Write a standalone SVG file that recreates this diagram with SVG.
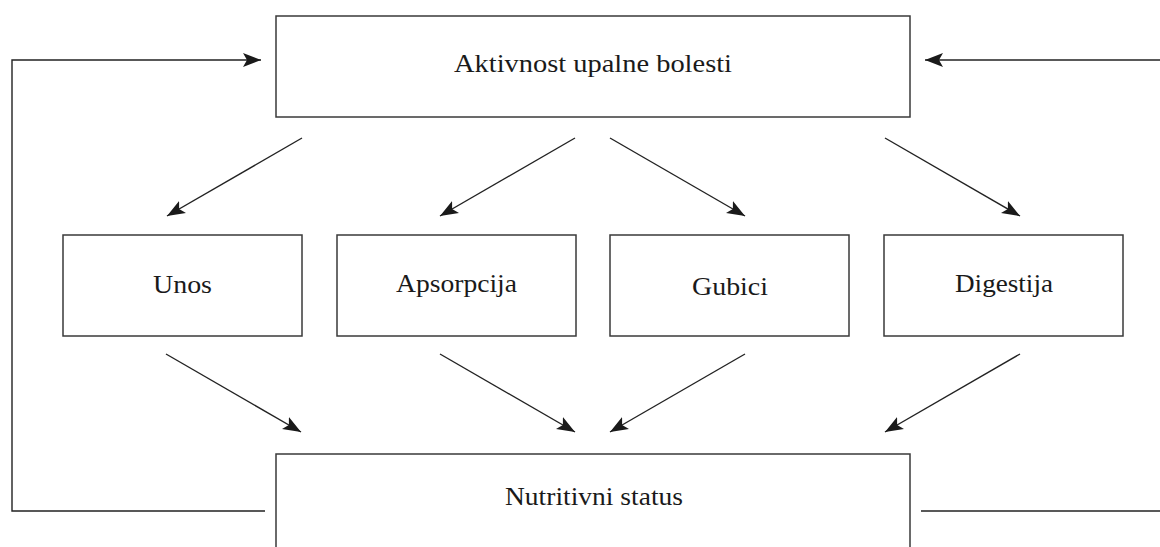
<svg xmlns="http://www.w3.org/2000/svg" width="1160" height="547" viewBox="0 0 1160 547">
<style>
.box{fill:#fff;stroke:#3a3a3a;stroke-width:1.5}
.lbl{font-family:"Liberation Serif","Times New Roman",serif;font-size:25px;fill:#1a1a1a;text-anchor:middle}
.con{fill:none;stroke:#222;stroke-width:1.4}
.arr{fill:none;stroke:#222;stroke-width:1.4;marker-end:url(#ah)}
</style>
<defs>
<marker id="ah" markerUnits="userSpaceOnUse" markerWidth="20" markerHeight="16" viewBox="0 0 20 16" refX="18" refY="8" orient="auto">
<path d="M0,1 L18,8 L0,15 L4,8 Z" fill="#1a1a1a"/>
</marker>
</defs>
<g id="connectors">
<polyline class="arr" points="265,511 12,511 12,60 261,60"/>
<line class="con" x1="921" y1="511" x2="1160" y2="511"/>
<line class="arr" x1="1160" y1="60" x2="925" y2="60"/>
<line class="arr" x1="302" y1="138" x2="167" y2="216"/>
<line class="arr" x1="575" y1="138" x2="440" y2="216"/>
<line class="arr" x1="610" y1="138" x2="745" y2="216"/>
<line class="arr" x1="885" y1="138" x2="1020" y2="216"/>
<line class="arr" x1="166" y1="354" x2="301" y2="432"/>
<line class="arr" x1="440" y1="354" x2="575" y2="432"/>
<line class="arr" x1="745" y1="354" x2="610" y2="432"/>
<line class="arr" x1="1020" y1="354" x2="885" y2="432"/>
</g>
<g id="node-aktivnost">
<rect class="box" x="276" y="16" width="634" height="101"/>
<text class="lbl" x="593" y="72" textLength="278" lengthAdjust="spacingAndGlyphs">Aktivnost upalne bolesti</text>
</g>
<g id="node-unos">
<rect class="box" x="63" y="235" width="239" height="101"/>
<text class="lbl" x="182.5" y="293" textLength="59" lengthAdjust="spacingAndGlyphs">Unos</text>
</g>
<g id="node-apsorpcija">
<rect class="box" x="337" y="235" width="239" height="101"/>
<text class="lbl" x="456.5" y="292" textLength="121" lengthAdjust="spacingAndGlyphs">Apsorpcija</text>
</g>
<g id="node-gubici">
<rect class="box" x="610" y="235" width="239" height="101"/>
<text class="lbl" x="730" y="295" textLength="76" lengthAdjust="spacingAndGlyphs">Gubici</text>
</g>
<g id="node-digestija">
<rect class="box" x="884" y="235" width="239" height="101"/>
<text class="lbl" x="1004" y="292" textLength="98" lengthAdjust="spacingAndGlyphs">Digestija</text>
</g>
<g id="node-nutritivni">
<rect class="box" x="276" y="454" width="634" height="110"/>
<text class="lbl" x="594" y="505" textLength="178" lengthAdjust="spacingAndGlyphs">Nutritivni status</text>
</g>
</svg>
